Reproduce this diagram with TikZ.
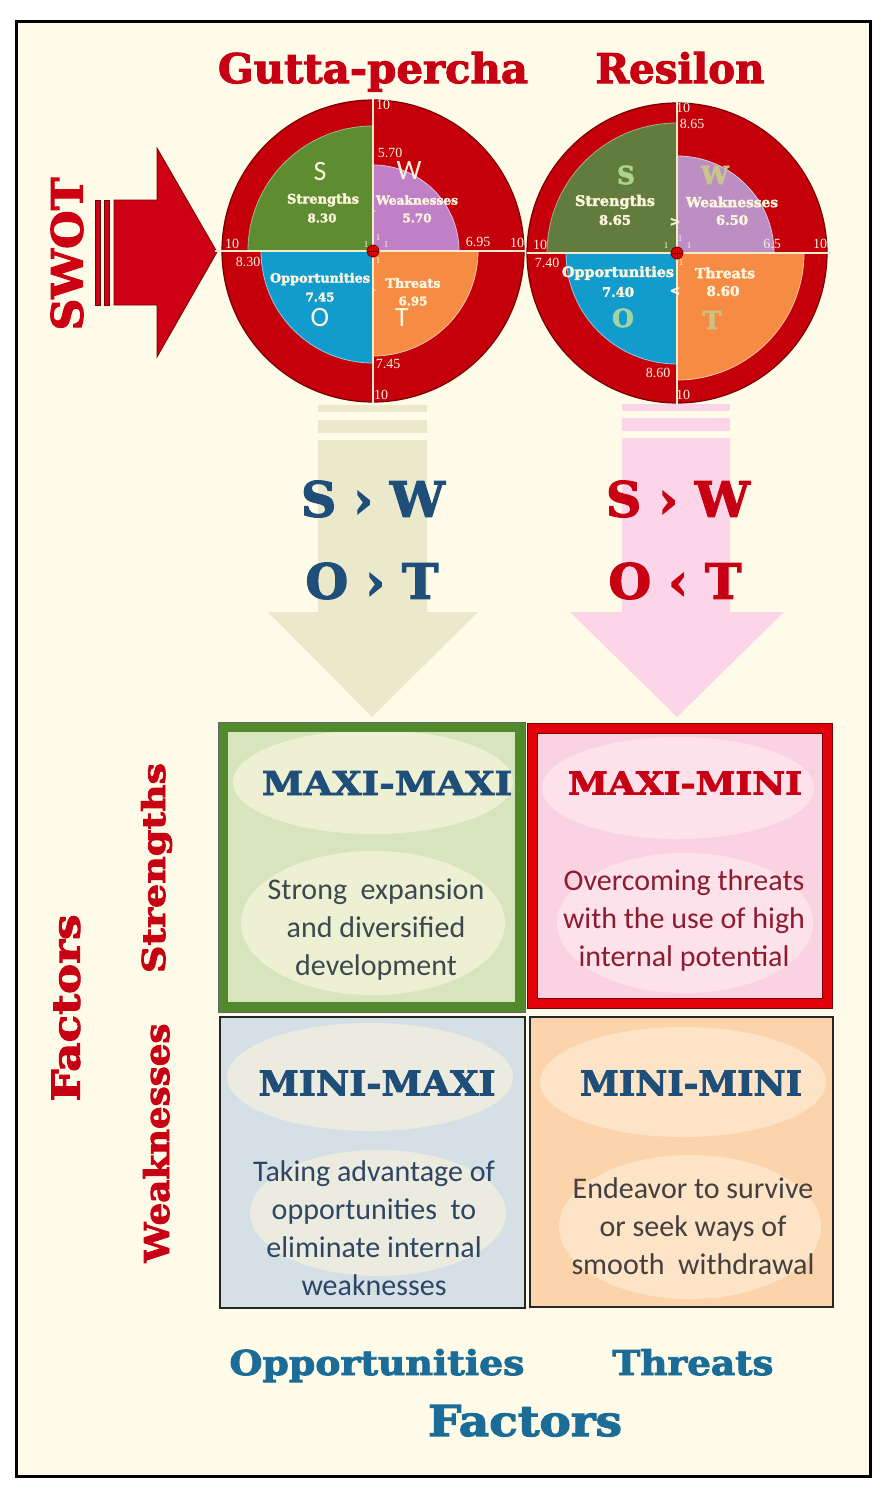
\documentclass[tikz,border=0pt]{standalone}
\usepackage{fontspec}
\usepackage{graphicx}
\setmainfont{Liberation Serif}
\newfontfamily\coop{DejaVu Serif}[BoldFeatures={FakeBold=2.5}]
\newfontfamily\calib{Carlito}
\definecolor{bgcream}{RGB}{254,252,232}
\definecolor{swotred}{RGB}{206,0,20}
\definecolor{darkred}{RGB}{120,0,0}
\definecolor{discred}{RGB}{198,0,10}
\definecolor{sgreen}{RGB}{94,140,49}
\definecolor{sgreenb}{RGB}{98,124,62}
\definecolor{wpurple}{RGB}{192,128,200}
\definecolor{wpurpleb}{RGB}{188,142,196}
\definecolor{oblue}{RGB}{18,156,206}
\definecolor{torange}{RGB}{246,140,68}
\definecolor{lblcream}{RGB}{252,244,220}
\definecolor{axisc}{RGB}{245,235,205}
\definecolor{titlered}{RGB}{200,0,20}
\definecolor{navy}{RGB}{31,78,121}
\definecolor{tealb}{RGB}{28,108,152}
\definecolor{khaki}{RGB}{234,233,204}
\definecolor{pinkar}{RGB}{252,214,232}
\definecolor{boxgreen}{RGB}{80,138,45}
\definecolor{fillgreen}{RGB}{216,229,188}
\definecolor{ellgreen}{RGB}{238,240,212}
\definecolor{boxred}{RGB}{226,0,10}
\definecolor{fillpink}{RGB}{250,210,226}
\definecolor{ellpink}{RGB}{253,226,236}
\definecolor{fillblue}{RGB}{212,224,230}
\definecolor{ellblue}{RGB}{236,235,224}
\definecolor{fillpeach}{RGB}{252,212,172}
\definecolor{ellpeach}{RGB}{253,228,198}
\definecolor{txtgreen}{RGB}{60,74,78}
\definecolor{txtpink}{RGB}{142,28,46}
\definecolor{txtblue}{RGB}{46,70,100}
\definecolor{txtpeach}{RGB}{68,64,64}
\definecolor{letS}{RGB}{170,212,140}
\definecolor{letW}{RGB}{198,198,140}
\definecolor{letO}{RGB}{160,212,165}
\definecolor{letT}{RGB}{204,192,130}
\newcommand\hvy[3]{\resizebox{#1pt}{#2pt}{\coop\bfseries #3}}
\newcommand\hwd[2]{\resizebox{#1pt}{!}{\coop\bfseries #2}}
\begin{document}
\begin{tikzpicture}[x=1pt,y=-1pt,
  lbl/.style={inner sep=0pt,outer sep=0pt},
  num/.style={lbl,text=lblcream,font=\fontsize{14}{14}\selectfont},
  tiny/.style={lbl,text=lblcream,font=\fontsize{9}{9}\selectfont},
  qlbl/.style={lbl,text=lblcream},
  sansletter/.style={lbl,text=lblcream,font=\calib\fontsize{28}{28}\selectfont},
  serifletter/.style={lbl,font=\coop\bfseries\fontsize{25}{25}\selectfont},
  body/.style={lbl,align=center,font=\calib\fontsize{30}{38}\selectfont},
  disc/.style={fill=discred,draw=darkred,line width=1.2},
  axis/.style={draw=axisc,line width=1.3},
  marker/.style={fill=red!85!black,draw=darkred,line width=0.8}
]
\useasboundingbox (0,0) rectangle (886,1492);
\fill[white] (0,0) rectangle (886,1492);
\draw[line width=3,fill=bgcream] (16,21) rectangle (870,1476);

% ---------- titles
\node[lbl,anchor=base,text=titlered] (t1) at (373,83) {\hvy{310}{31}{Gutta-percha}};
\node[lbl,anchor=base,text=titlered] (t2) at (680,83) {\hvy{169}{31}{Resilon}};

% ---------- SWOT arrow
\fill[swotred,draw=darkred,line width=0.8] (114,200) -- (157,200) -- (157,148) -- (217,252) -- (157,357) -- (157,305) -- (114,305) -- cycle;
\fill[swotred,draw=darkred,line width=0.6] (95,200) rectangle (100,305);
\fill[swotred,draw=darkred,line width=0.6] (104,200) rectangle (109,305);
\node[lbl,rotate=90,text=swotred] (swot) at (67,254) {\hvy{153}{32}{SWOT}};

% ---------- circle 1 (Gutta-percha)
\coordinate (c1) at (373,251);
\path[disc] (c1) circle[radius=151];
\fill[sgreen,draw=sgreen!60!white,line width=0.8] (c1) -- ++(180:125) arc[start angle=180,end angle=270,radius=125] -- cycle;
\fill[wpurple,draw=wpurple!50!white,line width=0.8] (c1) -- ++(270:86) arc[start angle=270,end angle=360,radius=86] -- cycle;
\fill[torange,draw=torange!50!white,line width=0.8] (c1) -- ++(0:105) arc[start angle=0,end angle=90,radius=105] -- cycle;
\fill[oblue,draw=oblue!50!white,line width=0.8] (c1) -- ++(90:112) arc[start angle=90,end angle=180,radius=112] -- cycle;
\draw[axis] (373,99) -- (373,403);
\draw[axis] (215,251) -- (527,251);
\path[marker] (c1) circle[radius=6];
\draw[darkred,line width=0.6] (367,251) -- (379,251) (373,245) -- (373,257);

\node[sansletter] (s1L) at (320,172) {S};
\node[sansletter] (w1L) at (409,171) {W};
\node[sansletter] (o1L) at (320,318) {O};
\node[sansletter] (t1L) at (402,318) {T};
\node[qlbl] (s1n) at (323,200) {\hwd{72}{Strengths}};
\node[qlbl] (s1v) at (322,218) {\hwd{29}{8.30}};
\node[qlbl] (w1n) at (417,200) {\hwd{82}{Weaknesses}};
\node[qlbl] (w1v) at (417,218) {\hwd{29}{5.70}};
\node[qlbl] (o1n) at (320,279) {\hwd{100}{Opportunities}};
\node[qlbl] (o1v) at (320,297) {\hwd{29}{7.45}};
\node[qlbl] (t1n) at (413,283) {\hwd{55}{Threats}};
\node[qlbl] (t1v) at (413,301) {\hwd{29}{6.95}};
\node[tiny] (g1a) at (374,212) {>};
\node[tiny] (g1b) at (374,291) {>};

\node[num] (n1a) at (383,105) {10};
\node[num] (n1b) at (390,153) {5.70};
\node[num] (n1c) at (232,244) {10};
\node[num] (n1d) at (248,262) {8.30};
\node[num] (n1e) at (478,242) {6.95};
\node[num] (n1f) at (517,243) {10};
\node[num] (n1g) at (388,364) {7.45};
\node[num] (n1h) at (381,395) {10};
\node[tiny] (u1a) at (366,245) {1};
\node[tiny] (u1b) at (378,238) {1};
\node[tiny] (u1c) at (386,245) {1};
\node[tiny] (u1d) at (378,261) {1};

% ---------- circle 2 (Resilon)
\coordinate (c2) at (677,253);
\path[disc] (c2) circle[radius=150];
\fill[sgreenb,draw=sgreenb!60!white,line width=0.8] (c2) -- ++(180:130) arc[start angle=180,end angle=270,radius=130] -- cycle;
\fill[wpurpleb,draw=wpurpleb!50!white,line width=0.8] (c2) -- ++(270:97) arc[start angle=270,end angle=360,radius=97] -- cycle;
\fill[torange,draw=torange!50!white,line width=0.8] (c2) -- ++(0:127) arc[start angle=0,end angle=90,radius=127] -- cycle;
\fill[oblue,draw=oblue!50!white,line width=0.8] (c2) -- ++(90:111) arc[start angle=90,end angle=180,radius=111] -- cycle;
\draw[axis] (677,101) -- (677,405);
\draw[axis] (527,253) -- (831,253);
\path[marker] (c2) circle[radius=6];
\draw[darkred,line width=0.6] (671,253) -- (683,253) (677,247) -- (677,259);

\node[serifletter,text=letS] (s2L) at (626,175) {S};
\node[serifletter,text=letW] (w2L) at (715,175) {W};
\node[serifletter,text=letO] (o2L) at (623,318) {O};
\node[serifletter,text=letT] (t2L) at (712,320) {T};
\node[qlbl] (s2n) at (615,202) {\hwd{80}{Strengths}};
\node[qlbl] (s2v) at (615,220) {\hwd{32}{8.65}};
\node[qlbl] (w2n) at (732,202) {\hwd{92}{Weaknesses}};
\node[qlbl] (w2v) at (732,220) {\hwd{32}{6.50}};
\node[qlbl] (o2n) at (618,273) {\hwd{112}{Opportunities}};
\node[qlbl] (o2v) at (618,292) {\hwd{32}{7.40}};
\node[qlbl] (t2n) at (725,273) {\hwd{60}{Threats}};
\node[qlbl] (t2v) at (723,291) {\hwd{33}{8.60}};
\node[qlbl,font=\coop\bfseries\fontsize{13}{13}\selectfont] (g2a) at (675,222) {>};
\node[qlbl,font=\coop\bfseries\fontsize{13}{13}\selectfont] (g2b) at (675,291) {<};

\node[num] (n2a) at (683,108) {10};
\node[num] (n2b) at (692,124) {8.65};
\node[num] (n2c) at (540,245) {10};
\node[num] (n2d) at (547,263) {7.40};
\node[num] (n2e) at (772,244) {6.5};
\node[num] (n2f) at (820,244) {10};
\node[num] (n2g) at (658,373) {8.60};
\node[num] (n2h) at (683,395) {10};
\node[tiny] (u2a) at (666,246) {1};
\node[tiny] (u2b) at (680,239) {1};
\node[tiny] (u2c) at (689,246) {1};
\node[tiny] (u2d) at (681,263) {1};

% ---------- down arrows
\fill[khaki] (318,405) rectangle (427,412);
\fill[khaki] (318,420) rectangle (427,433);
\fill[khaki] (318,440) -- (427,440) -- (427,612) -- (478,612) -- (372,717) -- (268,612) -- (318,612) -- cycle;
\fill[pinkar] (622,404) rectangle (730,411);
\fill[pinkar] (622,418) rectangle (730,431);
\fill[pinkar] (622,438) -- (730,438) -- (730,612) -- (784,612) -- (677,717) -- (570,612) -- (622,612) -- cycle;

\node[lbl,text=navy] (sw1) at (373,499) {\hvy{144}{36}{S › W}};
\node[lbl,text=navy] (ot1) at (372,581) {\hvy{133}{36}{O › T}};
\node[lbl,text=titlered] (sw2) at (678,499) {\hvy{144}{36}{S › W}};
\node[lbl,text=titlered] (ot2) at (675,581) {\hvy{133}{36}{O ‹ T}};

% ---------- matrix boxes
\fill[fillgreen] (218,722) rectangle (525,1012);
\fill[fillpink] (527,723) rectangle (832,1008);
\fill[fillblue] (220,1017) rectangle (525,1308);
\fill[fillpeach] (530,1017) rectangle (833,1307);

\fill[ellgreen] (373,782) ellipse[x radius=140,y radius=52];
\fill[ellgreen] (373,923) ellipse[x radius=132,y radius=72];
\fill[ellpink] (678,788) ellipse[x radius=136,y radius=51];
\fill[ellpink] (685,923) ellipse[x radius=128,y radius=70];
\fill[ellblue] (370,1077) ellipse[x radius=143,y radius=54];
\fill[ellblue] (378,1213) ellipse[x radius=128,y radius=63];
\fill[ellpeach] (683,1082) ellipse[x radius=143,y radius=55];
\fill[ellpeach] (690,1227) ellipse[x radius=131,y radius=72];

\draw[boxgreen,line width=10] (223,727) rectangle (520,1007);
\draw[black!60,line width=0.8] (218,722) rectangle (525,1012);
\draw[boxred,line width=10] (532,728) rectangle (827,1003);
\draw[darkred,line width=0.8] (527,723) rectangle (832,1008);
\draw[darkred,line width=0.6] (537,733) rectangle (822,998);
\draw[black!85,line width=2] (220,1017) rectangle (525,1308);
\draw[black!85,line width=2] (530,1017) rectangle (833,1307);

\node[lbl,text=navy] (mmt) at (387,783) {\hvy{250}{24}{MAXI-MAXI}};
\node[lbl,text=titlered] (mnt) at (685,783) {\hvy{234}{23}{MAXI-MINI}};
\node[lbl,text=navy] (nmt) at (377,1083) {\hvy{237}{25}{MINI-MAXI}};
\node[lbl,text=navy] (nnt) at (691,1083) {\hvy{222}{25}{MINI-MINI}};

\node[body,text=txtgreen] (mmb) at (376,930) {Strong\ \ expansion\\and diversified\\development};
\node[body,text=txtpink] (mnb) at (684,920) {Overcoming threats\\with the use of high\\internal potential};
\node[body,text=txtblue] (nmb) at (374,1228) {Taking advantage of\\opportunities\ \ to\\eliminate internal\\weaknesses};
\node[body,text=txtpeach] (nnb) at (693,1226) {Endeavor to survive\\or seek ways of\\smooth\ \ withdrawal};

% ---------- axis labels
\node[lbl,rotate=90,text=titlered] (lf) at (66,1008) {\hvy{187}{28}{Factors}};
\node[lbl,rotate=90,anchor=base,text=titlered] (ls) at (165,868) {\hvy{210}{24}{Strengths}};
\node[lbl,rotate=90,anchor=base,text=titlered] (lw) at (169,1143) {\hvy{239}{26}{Weaknesses}};
\node[lbl,anchor=base,text=tealb] (bo) at (377,1375) {\hvy{295}{26}{Opportunities}};
\node[lbl,anchor=base,text=tealb] (bt) at (693,1375) {\hvy{161}{26}{Threats}};
\node[lbl,anchor=base,text=tealb] (bf) at (525,1436) {\hvy{194}{31}{Factors}};
\end{tikzpicture}
\end{document}
